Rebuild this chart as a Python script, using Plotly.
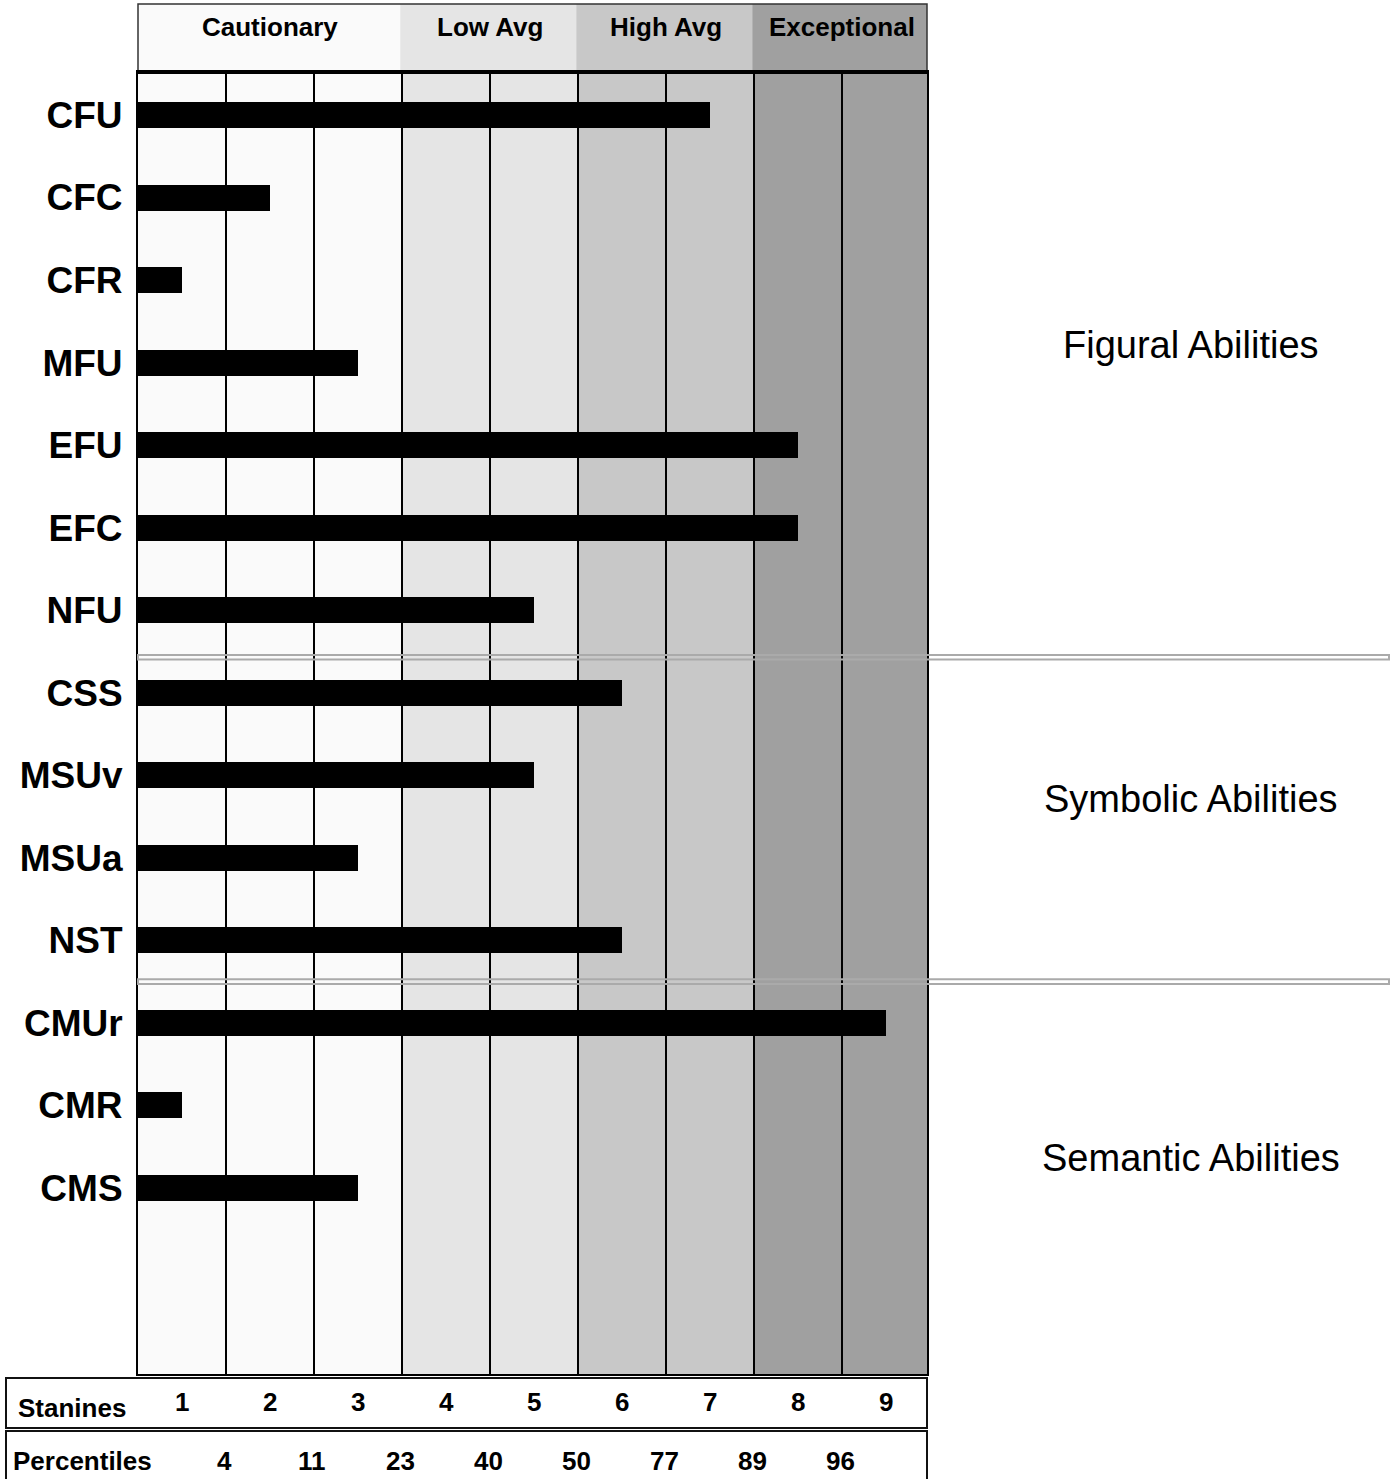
import plotly.graph_objects as go

# ---- data ----
abilities = ["CFU", "CFC", "CFR", "MFU", "EFU", "EFC", "NFU",
             "CSS", "MSUv", "MSUa", "NST",
             "CMUr", "CMR", "CMS"]
stanine_scores = [7, 2, 1, 3, 8, 8, 5,
                  6, 5, 3, 6,
                  9, 1, 3]
stanines = [1, 2, 3, 4, 5, 6, 7, 8, 9]
stanine_labels = ["1", "2", "3", "4", "5", "6", "7", "8", "9"]
percentile_labels = ["4", "11", "23", "40", "50", "77", "89", "96"]
band_names = ["Cautionary", "Low Avg", "High Avg", "Exceptional"]
band_spans = [(1, 3), (4, 5), (6, 7), (8, 9)]   # stanine ranges of each band
band_colors = ["#fafafa", "#e5e5e5", "#c8c8c8", "#a0a0a0"]
group_names = ["Figural Abilities", "Symbolic Abilities", "Semantic Abilities"]
group_label_y = [345, 799, 1158]          # pixel rows of group captions
separator_after = [6.57, 10.5]            # category index positions

W, H = 1392, 1479
FONT = "Liberation Sans, Arial, Helvetica, sans-serif"


def px(x):
    return x / W


def py(y):
    return 1 - y / H


X0 = 0.5
XMAX = X0 + (927 - 138) / 88.0

fig = go.Figure()
fig.add_trace(go.Bar(
    x=[s - X0 for s in stanine_scores], base=X0, y=abilities, orientation="h",
    marker=dict(color="black", line=dict(width=0)),
    width=0.315, hoverinfo="y",
))

shapes = []
# column shading inside the plot and in the header band
for (a, b), c in zip(band_spans, band_colors):
    shapes.append(dict(type="rect", xref="x", yref="paper", x0=a - 0.5, x1=b + 0.5,
                       y0=py(1374), y1=py(72), fillcolor=c,
                       line=dict(width=0), layer="below"))
    shapes.append(dict(type="rect", xref="x", yref="paper", x0=a - 0.52, x1=b + 0.48,
                       y0=py(72), y1=py(4), fillcolor=c,
                       line=dict(width=0), layer="below"))
shapes.append(dict(type="rect", xref="paper", yref="paper", x0=px(138), x1=px(927),
                   y0=py(72), y1=py(4), line=dict(color="#333333", width=1.5)))
shapes.append(dict(type="line", xref="paper", yref="paper", x0=px(137), x1=px(928),
                   y0=py(72), y1=py(72), line=dict(color="black", width=4)))
# group separators (double gray line)
for s in separator_after:
    shapes.append(dict(type="rect", xref="paper", yref="y", x0=px(138), x1=px(1389),
                       y0=s - 0.028, y1=s + 0.028,
                       line=dict(color="#aaaaaa", width=2), fillcolor="rgba(0,0,0,0)",
                       layer="above"))
# stanine & percentile boxes
shapes.append(dict(type="rect", xref="paper", yref="paper", x0=px(6), x1=px(927),
                   y0=py(1428), y1=py(1378), line=dict(color="#111111", width=2)))
shapes.append(dict(type="rect", xref="paper", yref="paper", x0=px(6), x1=px(927),
                   y0=py(1490), y1=py(1431), line=dict(color="#111111", width=2)))

annotations = []
for name, (a, b) in zip(band_names, band_spans):
    annotations.append(dict(text=name, xref="x", yref="paper", x=(a + b) / 2, y=py(27),
                            showarrow=False, xanchor="center", yanchor="middle",
                            font=dict(family=FONT, size=26, color="black", weight="bold")))
annotations.append(dict(text="Stanines", xref="paper", yref="paper", x=px(16), y=py(1408),
                        showarrow=False, xanchor="left", yanchor="middle",
                        font=dict(family=FONT, size=26, color="black", weight="bold")))
for s, lab in zip(stanines, stanine_labels):
    annotations.append(dict(text=lab, xref="x", yref="paper", x=s, y=py(1402),
                            showarrow=False, xanchor="center", yanchor="middle",
                            font=dict(family=FONT, size=26, color="black", weight="bold")))
annotations.append(dict(text="Percentiles", xref="paper", yref="paper", x=px(11), y=py(1461),
                        showarrow=False, xanchor="left", yanchor="middle",
                        font=dict(family=FONT, size=26, color="black", weight="bold")))
for s, lab in zip(stanines, percentile_labels):
    annotations.append(dict(text=lab, xref="x", yref="paper", x=s + 0.48, y=py(1461),
                            showarrow=False, xanchor="center", yanchor="middle",
                            font=dict(family=FONT, size=26, color="black", weight="bold")))
for name, yy in zip(group_names, group_label_y):
    annotations.append(dict(text=name, xref="paper", yref="paper", x=px(1191), y=py(yy),
                            showarrow=False, xanchor="center", yanchor="middle",
                            font=dict(family=FONT, size=38, color="black")))

spacing = (1188 - 115) / 13.0
ytop = -(115 - 72) / spacing
ybot = (1374 - 115) / spacing

fig.update_layout(
    width=W, height=H,
    margin=dict(l=0, r=0, t=0, b=0),
    paper_bgcolor="white", plot_bgcolor="white",
    showlegend=False,
    bargap=0,
    shapes=shapes, annotations=annotations,
    xaxis=dict(domain=[px(138), px(927)], range=[X0, XMAX],
               tickvals=[s + 0.5 for s in stanines[:-1]], showticklabels=False,
               showgrid=True, gridcolor="black", gridwidth=2, zeroline=False,
               showline=True, linecolor="black", linewidth=2, mirror=True,
               fixedrange=True),
    yaxis=dict(domain=[py(1374), py(72)], range=[ybot, ytop],
               type="category", categoryorder="array", categoryarray=abilities,
               showgrid=False, zeroline=False,
               showline=True, linecolor="black", linewidth=2, mirror=True,
               ticks="", ticklabelstandoff=6,
               tickfont=dict(family=FONT, size=37, color="black", weight="bold"),
               fixedrange=True),
)

fig.write_html("out.html", post_script="document.body.style.margin='0px';",
               config={"displayModeBar": False})
